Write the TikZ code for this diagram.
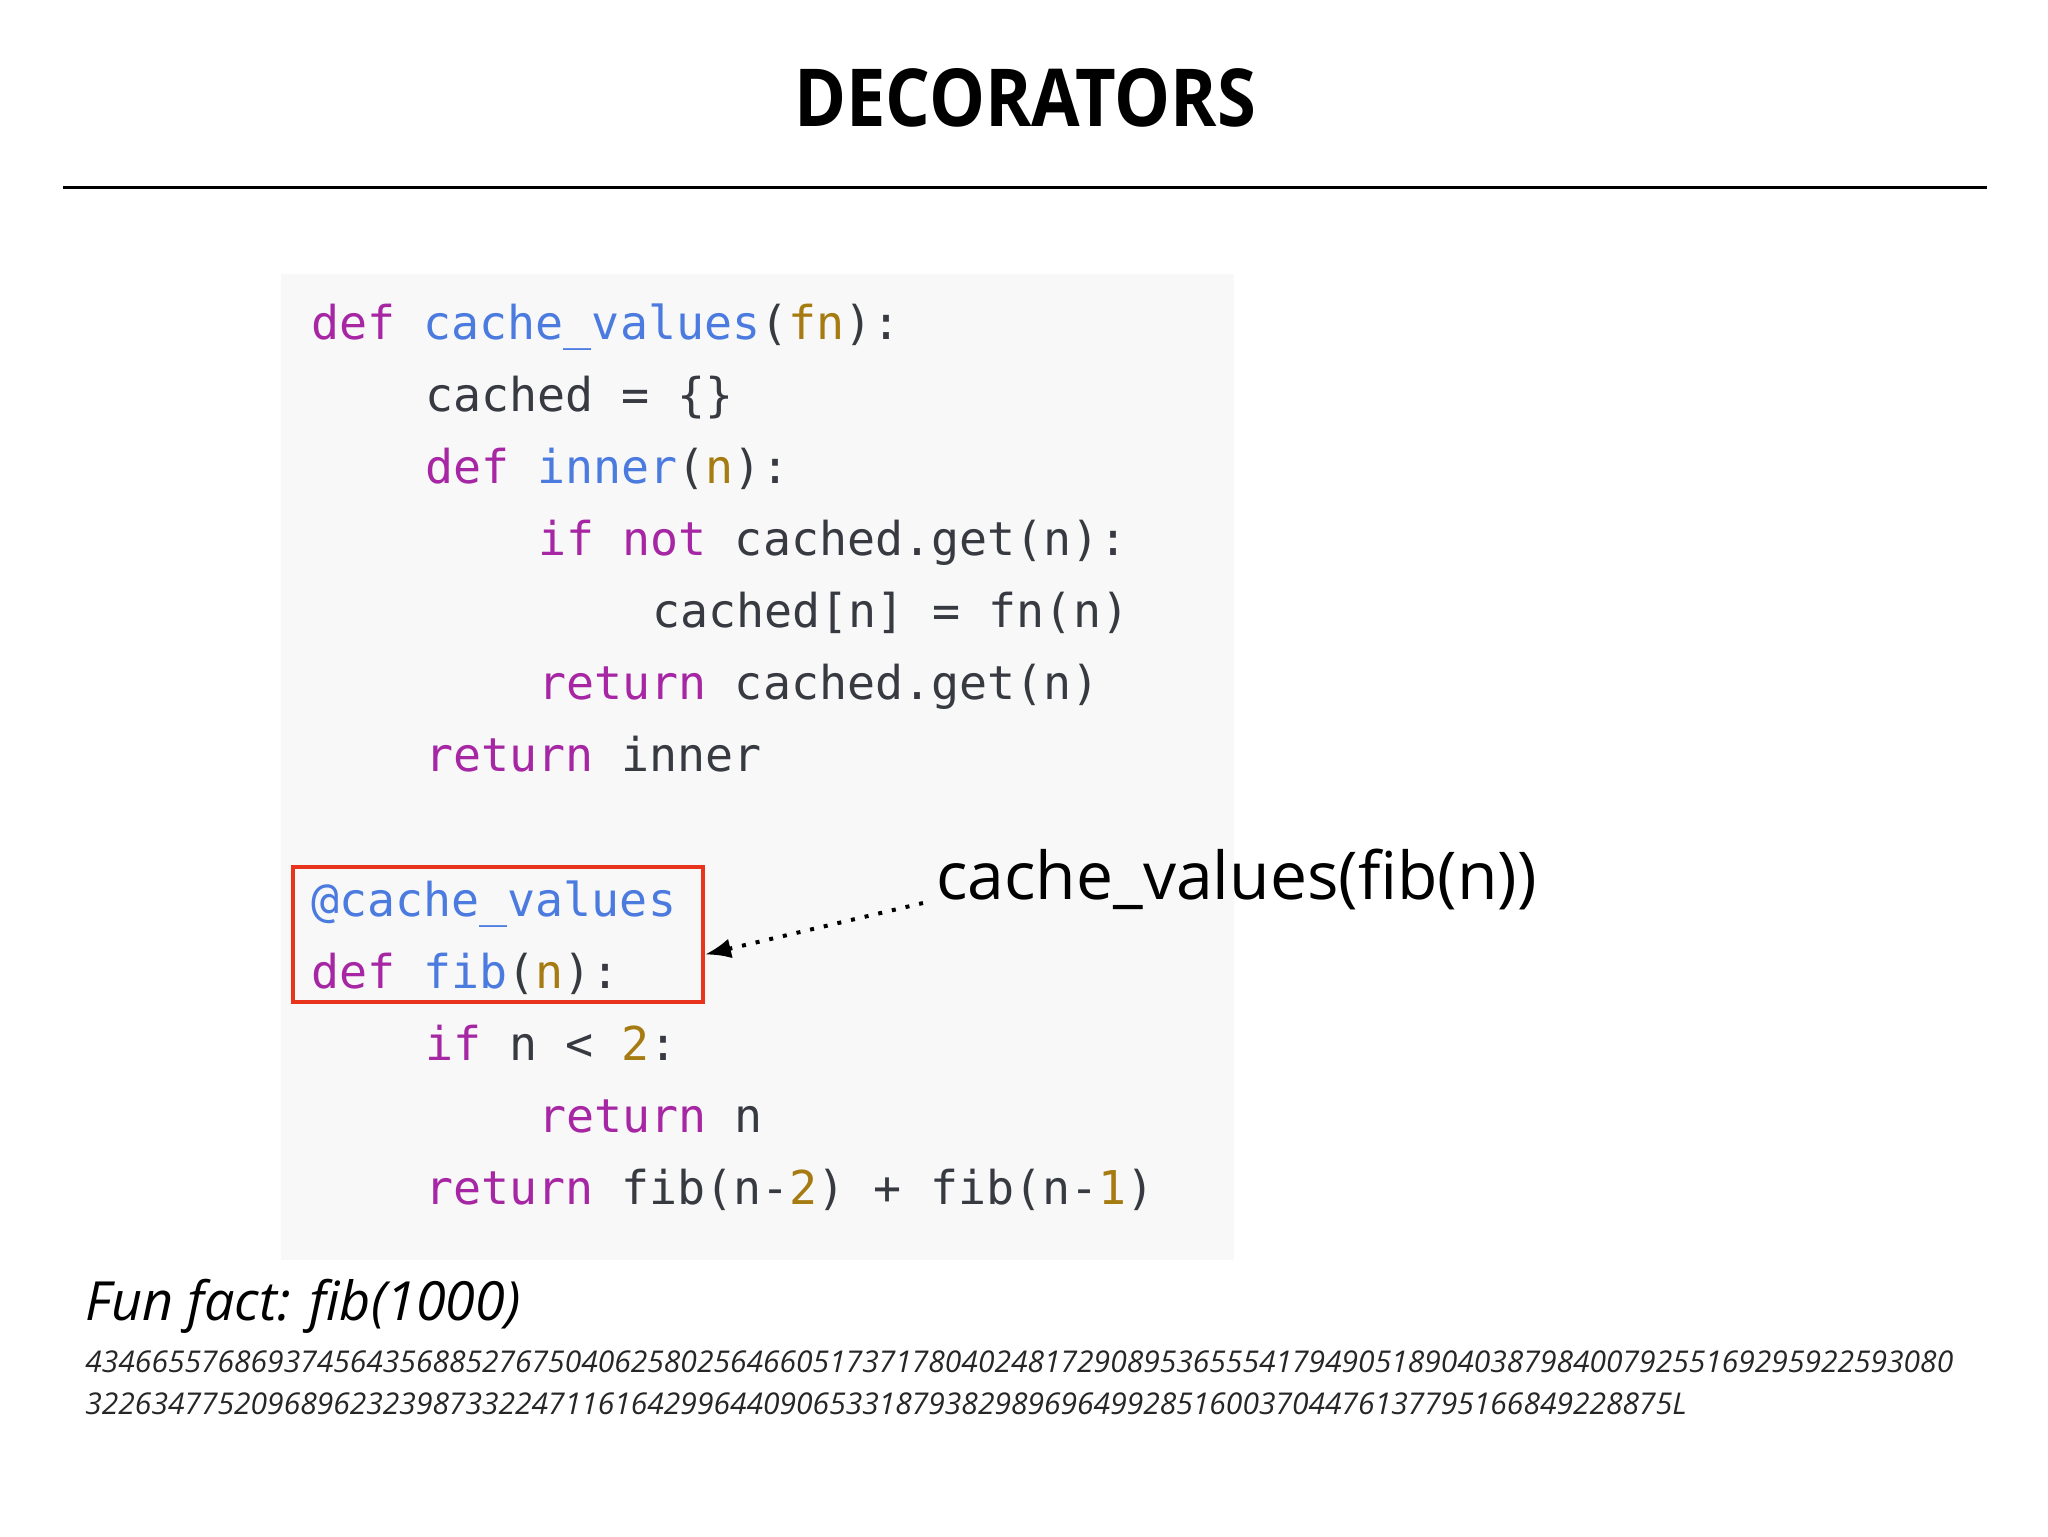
\documentclass[tikz,border=0pt]{standalone}
\usepackage{fontspec}
\setmainfont{Open Sans}
\setmonofont{DejaVu Sans Mono}
\usetikzlibrary{arrows.meta}
\definecolor{kwc}{HTML}{A626A4}
\definecolor{fnc}{HTML}{4C7BE0}
\definecolor{argc}{HTML}{A67C12}
\definecolor{txc}{HTML}{383A42}
\definecolor{redc}{HTML}{E8341C}
\definecolor{bgc}{HTML}{F8F8F8}
\newcommand{\ckw}[1]{\textcolor{kwc}{#1}}
\newcommand{\cfn}[1]{\textcolor{fnc}{#1}}
\newcommand{\carg}[1]{\textcolor{argc}{#1}}
\begin{document}
\begin{tikzpicture}[x=0.5pt,y=-0.5pt,
  code/.style={anchor=west,inner sep=0,font=\ttfamily\fontsize{23.3}{28}\selectfont,text=txc,text height=0.75em,text depth=0.25em}]
\useasboundingbox (0,0) rectangle (2048,1536);
\node[font=\bfseries\fontsize{40}{48}\selectfont] (title) at (1025,98) {\scalebox{0.88}[1]{DECORATORS}};
\draw[line width=1.5pt] (63,187) coordinate (r1) -- (1987,187) coordinate (r2);
\fill[bgc] (281,274) rectangle (1234,1260);
\def\ind{113.6}
\node[code] (l1) at (311,334) {\ckw{def} \cfn{cache\_values}(\carg{fn}):};
\node[code] (l2) at (311+\ind,406) {cached = \{\}};
\node[code] (l3) at (311+\ind,478) {\ckw{def} \cfn{inner}(\carg{n}):};
\node[code] (l4) at (311+2*\ind,550) {\ckw{if} \ckw{not} cached.get(n):};
\node[code] (l5) at (311+3*\ind,622) {cached[n] = fn(n)};
\node[code] (l6) at (311+2*\ind,694) {\ckw{return} cached.get(n)};
\node[code] (l7) at (311+\ind,766) {\ckw{return} inner};
\node[code] (l8) at (311,911) {\cfn{@cache\_values}};
\node[code] (l9) at (311,983) {\ckw{def} \cfn{fib}(\carg{n}):};
\node[code] (l10) at (311+\ind,1055) {\ckw{if} n < \carg{2}:};
\node[code] (l11) at (311+2*\ind,1127) {\ckw{return} n};
\node[code] (l12) at (311+\ind,1199) {\ckw{return} fib(n-\carg{2}) + fib(n-\carg{1})};
\node[draw=redc,line width=2pt,minimum width=205pt,minimum height=67.5pt,inner sep=0] (box) at (498,934.5) {};
\node[anchor=west,inner sep=0,font=\fontsize{33}{40}\selectfont] (ann) at (936,879) {cache\_values(fib(n))};
\coordinate (src) at (923,903);
\draw[line width=2pt,dash pattern=on 2pt off 5pt,-{Latex[length=13pt,width=10pt]}] (src) -- ([yshift=-10pt]box.east);
\node[anchor=west,inner sep=0,font=\itshape\fontsize{27}{32}\selectfont] (fun) at (85,1306) {Fun fact: fib(1000)};
\node[anchor=west,inner sep=0,font=\itshape\fontsize{15}{18}\selectfont,text=black!85] (n1) at (85,1362) {43466557686937456435688527675040625802564660517371780402481729089536555417949051890403879840079255169295922593080};
\node[anchor=west,inner sep=0,font=\itshape\fontsize{15}{18}\selectfont,text=black!85] (n2) at (85,1404) {322634775209689623239873322471161642996440906533187938298969649928516003704476137795166849228875L};
\end{tikzpicture}
\end{document}
